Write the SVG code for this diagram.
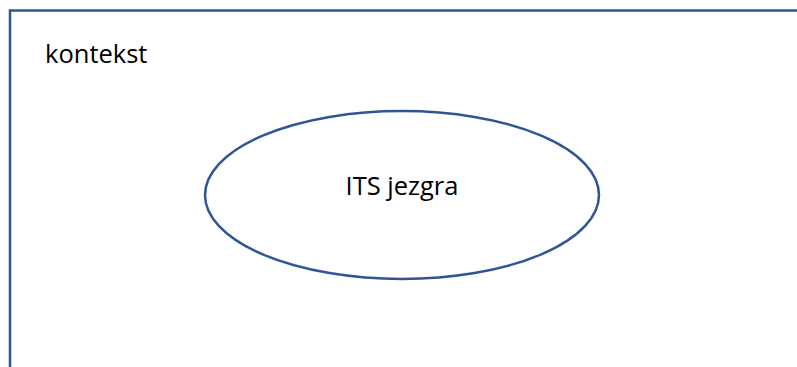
<svg xmlns="http://www.w3.org/2000/svg" width="797" height="367" viewBox="0 0 797 367">
<style>
.t{font-family:"Open Sans","Liberation Sans",sans-serif;font-size:25.5px;fill:#000}
.s{fill:none;stroke:#2f5597;stroke-width:2.5}
</style>
<rect width="797" height="367" fill="#fff"/>
<g id="kontekst">
<path class="s" d="M10,367 V10.5 H797"/>
<text class="t" x="45" y="63">kontekst</text>
</g>
<g id="its-jezgra">
<ellipse class="s" cx="402" cy="195" rx="197" ry="84" fill="#fff" stroke-width="2"/>
<text class="t" x="402" y="195" text-anchor="middle">ITS jezgra</text>
</g>
<g id="connectors"/>
</svg>
